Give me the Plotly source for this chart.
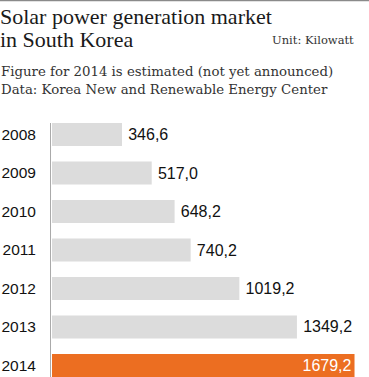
import plotly.graph_objects as go

years = ["2008", "2009", "2010", "2011", "2012", "2013", "2014"]
values = [346.6, 517.0, 648.2, 740.2, 1019.2, 1349.2, 1679.2]
value_labels = [f"{v:.1f}".replace(".", ",") for v in values]
bar_colors = ["#dcdcdc"] * 6 + ["#ec6e21"]
text_positions = ["outside"] * 6 + ["inside"]
text_colors = ["#111111"] * 6 + ["#ffffff"]

BASE = -54.4  # bars start slightly left of zero in the original design

W, H = 369, 377
ML, MT = 51, 123
PW, PH = W - ML, H - MT


def px_x(px):
    return (px - ML) / PW


def px_y(py):
    return (H - py) / PH


bar_text = [("\u2009" + t if p == "outside" else t) for t, p in zip(value_labels, text_positions)]

fig = go.Figure(
    go.Bar(
        y=years,
        x=[v - BASE for v in values],
        base=BASE,
        orientation="h",
        marker=dict(color=bar_colors, line=dict(width=0)),
        text=bar_text,
        textposition=text_positions,
        insidetextanchor="end",
        textfont=dict(family="Liberation Sans", size=16, color=text_colors),
        cliponaxis=False,
        hoverinfo="skip",
    )
)

title_font = "Liberation Serif"
sub_font = "DejaVu Serif"
annotations = [
    dict(text="Solar power generation market", x=px_x(-2), y=px_y(16), yanchor="middle",
         font=dict(family=title_font, size=22, color="#1a1a1a")),
    dict(text="in South Korea", x=px_x(-2), y=px_y(39.5), yanchor="middle",
         font=dict(family=title_font, size=22, color="#1a1a1a")),
    dict(text="Unit: Kilowatt", x=px_x(356), y=px_y(40.5), xanchor="right", yanchor="middle",
         font=dict(family=sub_font, size=11.5, color="#333333")),
    dict(text="Figure for 2014 is estimated (not yet announced)", x=px_x(-1), y=px_y(71.5),
         yanchor="middle", font=dict(family=sub_font, size=13.3, color="#333333")),
    dict(text="Data: Korea New and Renewable Energy Center", x=px_x(-1), y=px_y(89.5),
         yanchor="middle", font=dict(family=sub_font, size=13.3, color="#333333")),
]
for a in annotations:
    a.setdefault("xanchor", "left")
    a.update(xref="paper", yref="paper", showarrow=False, align="left")

fig.update_layout(
    width=W, height=H,
    margin=dict(l=ML, r=0, t=MT, b=0, pad=0, autoexpand=False),
    paper_bgcolor="white", plot_bgcolor="white",
    showlegend=False,
    bargap=0.4,
    annotations=annotations,
    shapes=[dict(type="line", xref="paper", yref="paper", x0=px_x(0), x1=px_x(W),
                 y0=px_y(0.5), y1=px_y(0.5), line=dict(color="#8a8a8a", width=1.5))],
    xaxis=dict(range=[(51 - 61.5) / 0.1745, (369 - 61.5) / 0.1745], visible=False,
               fixedrange=True, automargin=False),
    yaxis=dict(range=[6.3, -0.3], showline=True, linecolor="#aaaaaa", linewidth=1,
               showgrid=False, zeroline=False, ticks="", ticklabelstandoff=11, automargin=False,
               tickfont=dict(family="Liberation Sans", size=15.5, color="#111111"), fixedrange=True),
)

fig.write_html("out.html", config={"displayModeBar": False},
               post_script="document.body.style.margin='0';")
